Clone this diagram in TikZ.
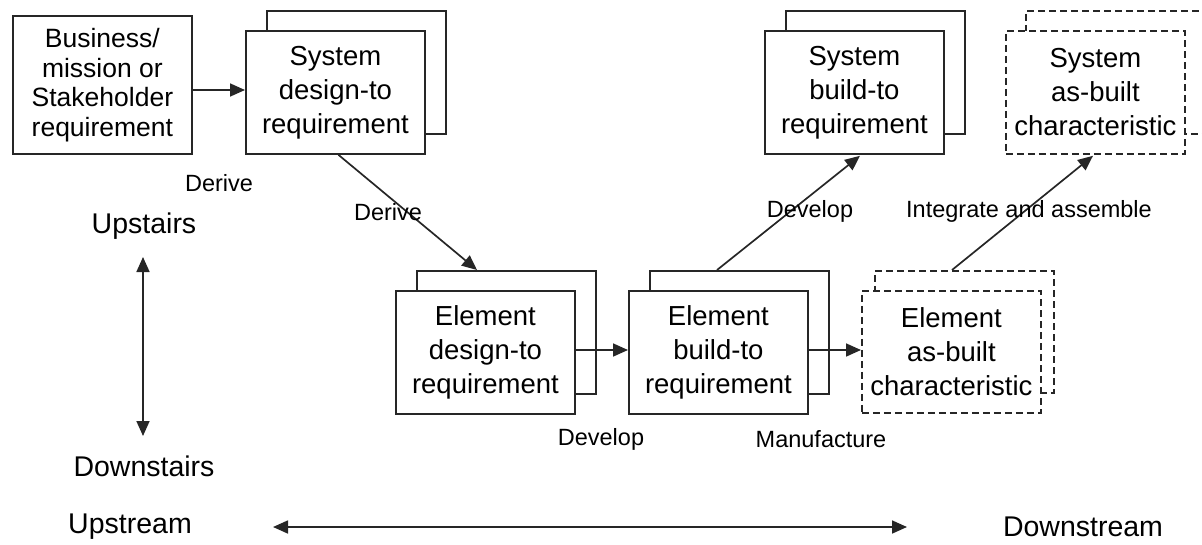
\documentclass[tikz,border=0pt]{standalone}
\usepackage{fontspec}
\setmainfont{Liberation Sans}
\usetikzlibrary{arrows.meta,calc}
\begin{document}
\begin{tikzpicture}[x=1pt,y=-1pt,
  box/.style={draw=black!85, line width=1.8pt, fill=white, minimum width=179pt,
    minimum height=123pt, inner sep=0pt, align=center, anchor=north west,
    font=\fontsize{27.5}{34}\selectfont},
  dbox/.style={box, dash pattern=on 7pt off 4pt},
  arr/.style={-{Triangle[length=15pt,width=13pt]}, line width=1.7pt, draw=black!85},
  darr/.style={{Triangle[length=15pt,width=13pt]}-{Triangle[length=15pt,width=13pt]},
    line width=1.7pt, draw=black!85},
  lbl/.style={font=\fontsize{23.5}{28}\selectfont},
  dir/.style={font=\fontsize{28.5}{34}\selectfont}]
  \useasboundingbox (0,0) rectangle (1202,544);
  \clip (0,0) rectangle (1202,544);

  % stakeholder requirement
  \node[box, minimum height=138pt, font=\fontsize{26.5}{29.5}\selectfont] (bus) at (12,15)
    {Business/\\mission or\\Stakeholder\\requirement};

  % system design-to requirement (stacked)
  \node[box] (sdb) at (266,10) {};
  \node[box] (sd) at (245,30) {System\\design-to\\requirement};

  % element design-to requirement (stacked)
  \node[box] (edb) at (416,270) {};
  \node[box] (ed) at (395,290) {Element\\design-to\\requirement};

  % element build-to requirement (stacked)
  \node[box] (ebb) at (649,270) {};
  \node[box] (eb) at (628,290) {Element\\build-to\\requirement};

  % element as-built characteristic (dashed, stacked)
  \node[dbox, minimum height=122pt] (eab) at (874,270) {};
  \node[dbox, minimum height=122pt] (ea) at (861,290) {Element\\as-built\\characteristic};

  % system build-to requirement (stacked)
  \node[box] (sbb) at (785,10) {};
  \node[box] (sb) at (764,30) {System\\build-to\\requirement};

  % system as-built characteristic (dashed, stacked)
  \node[dbox] (sab) at (1025,10) {};
  \node[dbox] (sa) at (1005,30) {System\\as-built\\characteristic};

  % flow connectors
  \draw[arr] (bus.east |- 0,90) -- (sd.west |- 0,90);
  \draw[arr] ([xshift=3pt]sd.south) -- ([xshift=61pt]edb.north west);
  \draw[arr] (ed.east |- 0,350) -- (eb.west |- 0,350);
  \draw[arr] (eb.east |- 0,350) -- (ea.west |- 0,350);
  \draw[arr] ([xshift=68pt]ebb.north west) -- ([xshift=96pt,yshift=-1pt]sb.south west);
  \draw[arr] ([xshift=78pt]eab.north west) -- ([xshift=88pt,yshift=-1pt]sa.south west);

  % connector labels
  \node[lbl] (l1) at (219,183) {Derive};
  \node[lbl] (l2) at (388,212) {Derive};
  \node[lbl] (l3) at (810,211) {Develop};
  \node[lbl] (l4) at (1029,211) {Integrate and assemble};
  \node[lbl] (l5) at (601,439) {Develop};
  \node[lbl] (l6) at (821,439) {Manufacture};

  % orientation axes
  \node[dir] (up) at (144,226) {Upstairs};
  \node[dir] (down) at (144,466) {Downstairs};
  \coordinate (vt) at (143,257);
  \coordinate (vb) at (143,436);
  \draw[darr] (vt) -- (vb);

  \node[dir] (ups) at (130,527) {Upstream};
  \node[dir] (downs) at (1083,527) {Downstream};
  \coordinate (hl) at (273,527);
  \coordinate (hr) at (907,527);
  \draw[darr] (hl) -- (hr);
\end{tikzpicture}
\end{document}
